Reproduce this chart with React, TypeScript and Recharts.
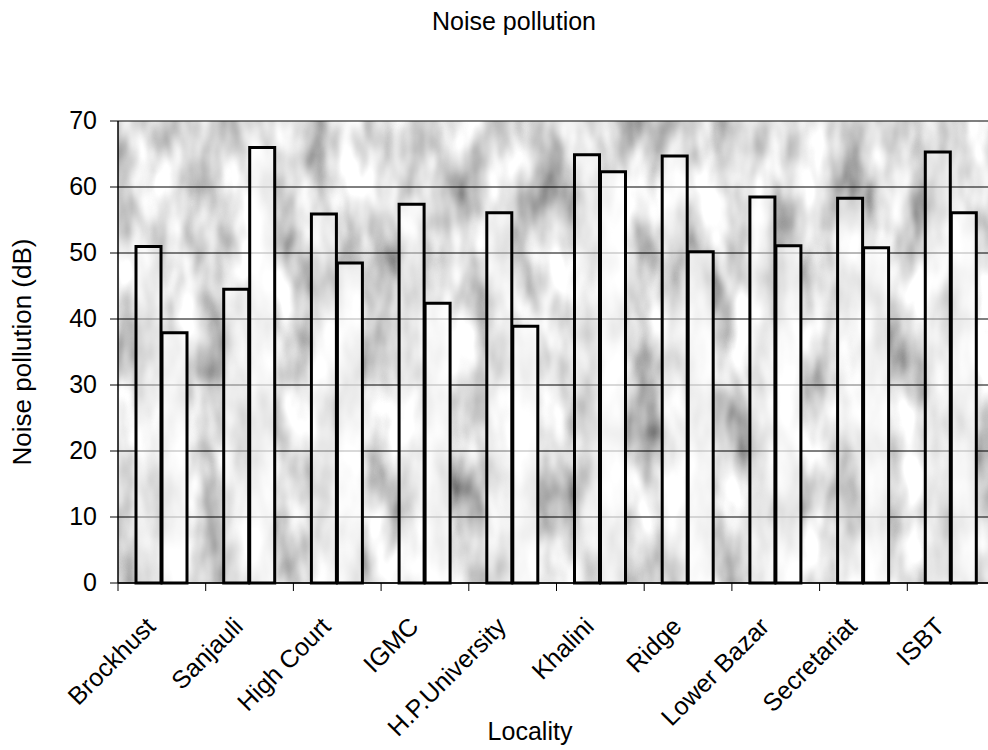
import React from 'react';
import { BarChart, Bar, XAxis, YAxis, CartesianGrid } from 'recharts';

const localities = ['Brockhust', 'Sanjauli', 'High Court', 'IGMC', 'H.P.University', 'Khalini', 'Ridge', 'Lower Bazar', 'Secretariat', 'ISBT'];
const seriesA = [51.0, 44.5, 55.9, 57.4, 56.1, 64.9, 64.7, 58.5, 58.3, 65.3];
const seriesB = [37.9, 66.0, 48.5, 42.4, 38.9, 62.3, 50.2, 51.1, 50.8, 56.1];
const yTicks = [0, 10, 20, 30, 40, 50, 60, 70];

const data = localities.map((name, i) => ({ name, a: seriesA[i], b: seriesB[i] }));

const FONT = '"Liberation Sans", Arial, sans-serif';
const CHART_W = 1000;
const CHART_H = 750;
const Y_AXIS_W = 118;
const MARGIN = { top: 121, right: 5, bottom: 0, left: 0 };
const X_AXIS_H = CHART_H - MARGIN.top - MARGIN.bottom - 462;
const BAND = (CHART_W - MARGIN.left - MARGIN.right - Y_AXIS_W) / localities.length;

const XTick = (props: any) => {
  const { x, y, payload } = props;
  return (
    <g>
      <line x1={x - BAND / 2} x2={x - BAND / 2} y1={y} y2={y + 8} stroke="#000" strokeWidth={1} />
      <g transform={`translate(${x - 5},${y + 45})`}>
        <text transform="rotate(-45)" textAnchor="end" fontFamily={FONT} fontSize={25} fill="#000">
          {payload.value}
        </text>
      </g>
    </g>
  );
};

const YTick = (props: any) => {
  const { x, y, payload } = props;
  return (
    <text x={x} y={y} dy={8} textAnchor="end" fontFamily={FONT} fontSize={25} fill="#000">
      {payload.value}
    </text>
  );
};

export default function App() {
  return (
    <div style={{ position: 'absolute', left: 0, top: 0, width: 988, height: 750, overflow: 'hidden', background: '#fff' }}>
      <div style={{ position: 'absolute', left: 214, top: 6, width: 600, textAlign: 'center', fontFamily: FONT, fontSize: 25, color: '#000', lineHeight: '30px' }}>
        Noise pollution
      </div>
      <BarChart width={CHART_W} height={CHART_H} data={data} margin={MARGIN} barSize={25} barGap={1}>
        <defs>
          <filter id="mottle" x="0" y="0" width="100%" height="100%" filterUnits="userSpaceOnUse">
            <feTurbulence type="fractalNoise" baseFrequency="0.03 0.013" numOctaves={3} seed={7} />
            <feColorMatrix type="matrix" values="1.4 0 0 0 0.02  1.4 0 0 0 0.02  1.4 0 0 0 0.02  0 0 0 0 1" />
          </filter>
          <pattern id="mottleFill" patternUnits="userSpaceOnUse" x="0" y="0" width={CHART_W} height={CHART_H}>
            <rect x="0" y="0" width={CHART_W} height={CHART_H} filter="url(#mottle)" />
          </pattern>
        </defs>
        <CartesianGrid vertical={false} stroke="#000" strokeWidth={1} fill="url(#mottleFill)" fillOpacity={1} />
        <XAxis
          dataKey="name"
          height={X_AXIS_H}
          interval={0}
          tickLine={false}
          tickSize={0}
          tickMargin={0}
          tick={<XTick />}
          axisLine={{ stroke: '#000', strokeWidth: 1.5 }}
          label={{
            content: () => (
              <text x={530} y={740} textAnchor="middle" fontFamily={FONT} fontSize={25} fill="#000">Locality</text>
            ),
          }}
        />
        <YAxis
          width={Y_AXIS_W}
          domain={[0, 70]}
          ticks={yTicks}
          interval={0}
          tickSize={8}
          tickMargin={13}
          tick={<YTick />}
          tickLine={{ stroke: '#000' }}
          axisLine={{ stroke: '#000', strokeWidth: 1.5 }}
          label={{
            content: () => (
              <text x={31} y={352} transform="rotate(-90, 31, 352)" textAnchor="middle" fontFamily={FONT} fontSize={26} fill="#000">
                Noise pollution (dB)
              </text>
            ),
          }}
        />
        <Bar dataKey="a" fill="#ffffff" fillOpacity={0.45} stroke="#000" strokeWidth={3} isAnimationActive={false} />
        <Bar dataKey="b" fill="#ffffff" fillOpacity={0.7} stroke="#000" strokeWidth={3} isAnimationActive={false} />
      </BarChart>
    </div>
  );
}
